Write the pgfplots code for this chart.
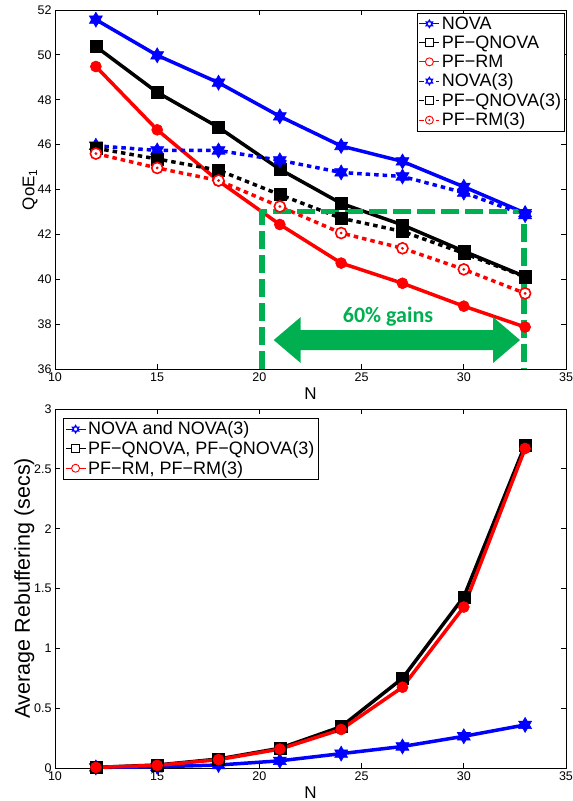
\documentclass[border=0pt]{standalone}
\usepackage{fontspec}
\setmainfont{Liberation Sans}
\newfontfamily\gainsfont{Carlito}
\usepackage{pgfplots}
\pgfplotsset{compat=1.18}
\definecolor{ggreen}{HTML}{00B050}

% MATLAB-like hexagram and hollow markers
\pgfdeclareplotmark{hexa}{%
  \pgfpathmoveto{\pgfpointpolar{90}{\pgfplotmarksize}}%
  \pgfpathlineto{\pgfpointpolar{210}{\pgfplotmarksize}}%
  \pgfpathlineto{\pgfpointpolar{330}{\pgfplotmarksize}}%
  \pgfpathclose
  \pgfpathmoveto{\pgfpointpolar{270}{\pgfplotmarksize}}%
  \pgfpathlineto{\pgfpointpolar{390}{\pgfplotmarksize}}%
  \pgfpathlineto{\pgfpointpolar{510}{\pgfplotmarksize}}%
  \pgfpathclose
  \pgfusepathqfillstroke}
\pgfdeclareplotmark{dotcirc}{%
  \pgfpathcircle{\pgfpointorigin}{\pgfplotmarksize}%
  \pgfsetfillcolor{white}\pgfusepathqfillstroke
  \pgfpathcircle{\pgfpointorigin}{0.4pt}\pgfusepathqstroke}

\pgfplotsset{
  matstyle/.style={scale only axis, width=511pt, height=359pt,
    xmin=10, xmax=35, xtick={10,15,...,35}, clip=false,
    axis line style={line width=0.8pt}, tick style={line width=0.8pt, black},
    major tick length=5pt,
    tick label style={font=\fontsize{12.5}{14}\selectfont},
    /pgf/number format/assume math mode=true,
    label style={font=\fontsize{17}{20}\selectfont},
    ylabel shift=-7pt,
    legend cell align=left,
    legend style={font=\fontsize{18}{21}\selectfont, draw=black, line width=0.8pt,
      inner sep=1.5pt, row sep=1pt},
    legend image code/.code={\draw[mark repeat=2,mark phase=2,##1,line width=1pt,mark size=4pt,
      every mark/.append style={fill=white, line width=0.9pt}]
      plot coordinates {(0pt,0pt) (10pt,0pt) (20pt,0pt)};}},
  nova/.style={blue, line width=3.5pt, mark=hexa, mark size=7.5pt,
    mark options={solid, fill=blue, line width=0.6pt}},
  pfq/.style={black, line width=3.5pt, mark=square*, mark size=6pt,
    mark options={solid, fill=black, line width=0.6pt}},
  pfrm/.style={red, line width=3.5pt, mark=*, mark size=5.5pt,
    mark options={solid, fill=red, line width=0.6pt}},
  dots/.style={dash pattern=on 4.5pt off 4pt},
}

\begin{document}
\begin{tikzpicture}
\useasboundingbox (0,0) rectangle (573pt,801pt);
\begin{axis}[matstyle, at={(55pt,432pt)}, anchor=south west,
  ymin=36, ymax=52, ytick={36,38,...,52},
  xlabel={N}, ylabel={QoE\textsubscript{1}},
  legend style={at={(0.998,0.992)}, anchor=north east}]
\addplot[nova] coordinates {(12,51.57) (15,49.98) (18,48.76) (21,47.26) (24,45.94) (27,45.25) (30,44.12) (33,42.95)};
\addlegendentry{NOVA}
\addplot[pfq] coordinates {(12,50.37) (15,48.33) (18,46.77) (21,44.90) (24,43.38) (27,42.42) (30,41.25) (33,40.12)};
\addlegendentry{PF−QNOVA}
\addplot[pfrm] coordinates {(12,49.48) (15,46.66) (18,44.38) (21,42.44) (24,40.72) (27,39.82) (30,38.80) (33,37.87)};
\addlegendentry{PF−RM}
\addplot[nova, dots] coordinates {(12,45.95) (15,45.74) (18,45.74) (21,45.30) (24,44.76) (27,44.58) (30,43.86) (33,42.86)};
\addlegendentry{NOVA(3)}
\addplot[pfq, dots] coordinates {(12,45.84) (15,45.36) (18,44.86) (21,43.77) (24,42.72) (27,42.13) (30,41.16) (33,40.10)};
\addlegendentry{PF−QNOVA(3)}
\addplot[pfrm, dots, mark=dotcirc, mark options={solid, line width=1.6pt}] coordinates {(12,45.60) (15,44.96) (18,44.40) (21,43.24) (24,42.06) (27,41.38) (30,40.44) (33,39.37)};
\addlegendentry{PF−RM(3)}
% annotation: dashed box and double arrow
\draw[ggreen, line width=5.5pt, dash pattern=on 18pt off 6pt]
  (axis cs:20.13,36) -- (axis cs:20.13,43.01) -- (axis cs:32.95,43.01) -- (axis cs:32.95,36);
\coordinate (L) at (axis cs:20.7,37.29);
\coordinate (R) at (axis cs:32.75,37.29);
\fill[ggreen] (L) -- ([shift={(27pt,23pt)}]L) -- ([shift={(27pt,10pt)}]L)
  -- ([shift={(-27pt,10pt)}]R) -- ([shift={(-27pt,23pt)}]R) -- (R)
  -- ([shift={(-27pt,-23pt)}]R) -- ([shift={(-27pt,-10pt)}]R)
  -- ([shift={(27pt,-10pt)}]L) -- ([shift={(27pt,-23pt)}]L) -- cycle;
\node[text=ggreen, font=\gainsfont\bfseries\fontsize{22}{24}\selectfont] at (axis cs:26.29,38.32) {60\% gains};
\end{axis}

\begin{axis}[matstyle, at={(55pt,33pt)}, anchor=south west,
  ymin=0, ymax=3, ytick={0,0.5,...,3},
  xlabel={N}, ylabel={Average Rebuffering (secs)},
  ylabel style={font=\fontsize{21.5}{24}\selectfont},
  legend style={at={(0.016,0.975)}, anchor=north west}]
\addplot[nova] coordinates {(12,0.005) (15,0.01) (18,0.025) (21,0.06) (24,0.12) (27,0.18) (30,0.265) (33,0.36)};
\addlegendentry{NOVA and NOVA(3)}
\addplot[pfq] coordinates {(12,0.005) (15,0.025) (18,0.075) (21,0.165) (24,0.345) (27,0.75) (30,1.43) (33,2.70)};
\addlegendentry{PF−QNOVA, PF−QNOVA(3)}
\addplot[pfrm] coordinates {(12,0.005) (15,0.022) (18,0.07) (21,0.158) (24,0.322) (27,0.675) (30,1.345) (33,2.67)};
\addlegendentry{PF−RM, PF−RM(3)}
\end{axis}
\end{tikzpicture}
\end{document}
